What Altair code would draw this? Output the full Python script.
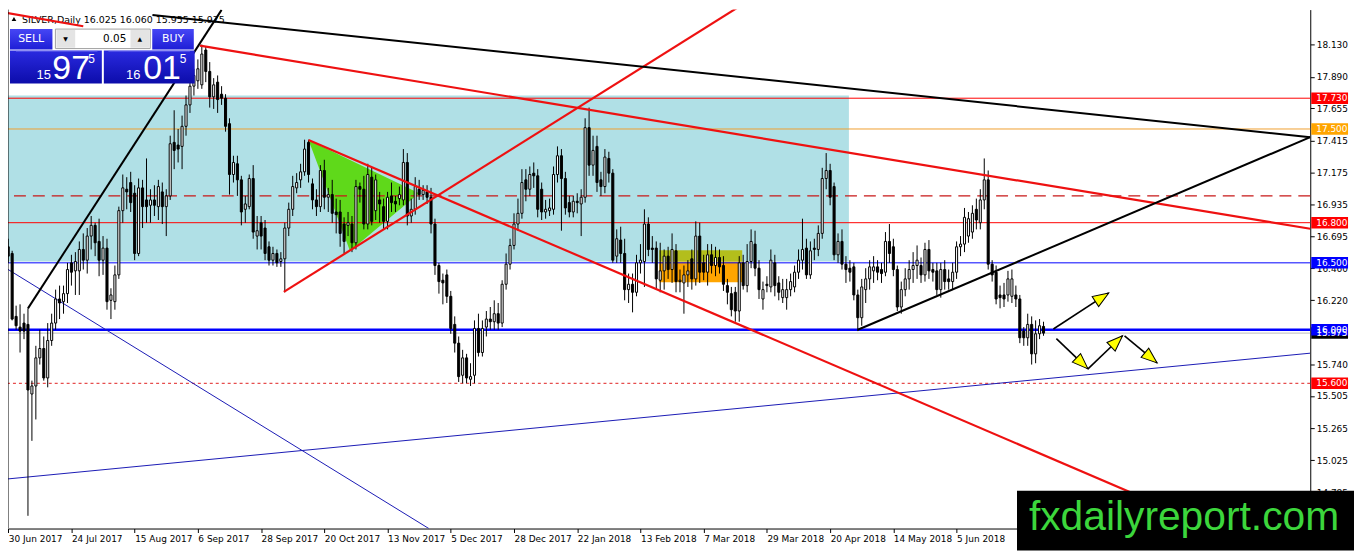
import math
import altair as alt
import pandas as pd

# ---------------- candle data (bar 0 = 30 Jun 2017, one bar per weekday) ----------------
opens = [16.62,16.57,16.10,16.02,16.05,16.04,15.52,15.58,15.79,15.86,
         15.64,15.92,16.05,16.23,16.21,16.27,16.50,16.44,16.44,16.60,
         16.52,16.70,16.78,16.66,16.52,16.61,16.22,16.21,16.41,16.89,
         17.05,17.10,17.02,16.57,17.06,16.97,16.93,16.97,16.92,17.03,
         16.92,17.00,17.40,17.38,17.37,17.52,17.68,17.82,17.86,17.83,
         18.09,17.93,17.74,17.85,17.76,17.73,17.54,17.16,17.24,17.12,
         16.90,16.92,17.13,16.70,16.80,16.76,16.62,16.52,16.57,16.51,
         16.53,16.76,16.90,17.06,17.12,17.18,17.40,17.09,16.97,16.92,
         17.19,16.99,17.01,16.88,16.88,16.79,16.78,16.79,16.65,17.07,
         17.05,16.79,17.14,16.89,16.97,16.92,16.81,17.00,16.96,16.98,
         16.97,17.25,16.85,16.90,17.05,17.01,17.03,16.99,16.79,16.48,
         16.37,16.41,16.25,16.04,15.90,15.66,15.79,15.63,15.66,16.01,
         15.83,16.02,16.08,16.06,16.12,16.05,16.34,16.49,16.63,16.79,
         16.87,17.12,17.05,17.17,17.15,17.05,16.88,16.89,16.90,17.16,
         17.30,17.13,16.95,16.88,16.96,16.94,16.99,17.51,17.23,17.37,
         17.12,17.07,17.28,17.17,16.55,16.67,16.57,16.30,16.34,16.28,
         16.50,16.51,16.79,16.61,16.61,16.37,16.44,16.55,16.45,16.59,
         16.36,16.35,16.41,16.53,16.38,16.70,16.50,16.43,16.56,16.48,
         16.54,16.48,16.33,16.27,16.28,16.14,16.50,16.33,16.51,16.64,
         16.46,16.23,16.34,16.32,16.50,16.35,16.24,16.24,16.30,16.32,
         16.43,16.52,16.61,16.41,16.61,16.60,16.72,17.13,17.19,17.07,
         16.56,16.66,16.49,16.46,16.47,16.26,16.09,16.30,16.38,16.44,
         16.47,16.45,16.43,16.66,16.62,16.45,16.17,16.30,16.38,16.45,
         16.48,16.48,16.41,16.60,16.45,16.44,16.30,16.45,16.38,16.36,
         16.43,16.62,16.64,16.70,16.73,16.90,16.80,16.97,17.12,16.49,
         16.43,16.26,16.26,16.26,16.25,16.26,16.23,15.99,15.94,16.04,
         15.82,15.97,16.025]
highs = [16.68,16.59,16.18,16.19,16.12,16.16,15.62,15.88,16.00,15.95,
         16.05,16.12,16.30,16.33,16.33,16.50,16.56,16.58,16.66,16.72,
         16.76,16.85,16.80,16.83,16.70,16.68,16.31,16.48,16.92,17.16,
         17.14,17.18,17.08,17.13,17.12,17.28,17.05,17.08,17.12,17.10,
         17.05,17.45,17.64,17.50,17.60,17.75,17.87,17.95,18.02,18.13,
         18.12,18.00,17.88,17.90,17.82,17.76,17.58,17.30,17.30,17.15,
         17.00,17.16,17.23,16.85,16.85,16.82,16.66,16.62,16.60,16.58,
         16.80,16.95,17.15,17.17,17.24,17.42,17.42,17.13,17.05,17.23,
         17.27,17.06,17.12,16.98,16.97,16.84,16.88,16.85,17.12,17.10,
         17.15,17.24,17.21,17.16,17.03,16.98,17.03,17.10,17.00,17.07,
         17.35,17.32,16.98,17.14,17.12,17.08,17.08,17.06,16.83,16.50,
         16.42,16.45,16.29,16.10,15.95,15.85,15.82,15.75,16.07,16.12,
         16.07,16.14,16.17,16.22,16.20,16.37,16.57,16.68,16.87,16.98,
         17.20,17.20,17.22,17.25,17.20,17.10,16.97,16.98,17.22,17.37,
         17.35,17.18,17.00,17.00,17.02,17.05,17.58,17.66,17.45,17.45,
         17.18,17.35,17.33,17.20,16.75,16.77,16.68,16.42,16.42,16.56,
         16.64,16.90,16.84,16.70,16.66,16.65,16.60,16.62,16.72,16.64,
         16.45,16.48,16.52,16.60,16.81,16.80,16.56,16.64,16.64,16.62,
         16.60,16.55,16.38,16.32,16.32,16.55,16.56,16.64,16.75,16.74,
         16.52,16.36,16.40,16.60,16.56,16.40,16.38,16.38,16.42,16.48,
         16.60,16.83,16.68,16.66,16.68,16.78,17.21,17.32,17.24,17.10,
         16.72,16.75,16.55,16.52,16.50,16.30,16.38,16.46,16.52,16.55,
         16.52,16.50,16.73,16.79,16.68,16.48,16.36,16.46,16.52,16.58,
         16.63,16.54,16.65,16.67,16.50,16.50,16.50,16.52,16.45,16.50,
         16.66,16.70,16.91,16.88,16.93,16.98,17.05,17.28,17.19,16.52,
         16.48,16.33,16.35,16.44,16.45,16.33,16.26,16.02,16.12,16.10,
         16.07,16.08,16.06]
lows = [16.50,16.07,16.00,15.83,15.93,14.61,15.17,15.33,15.74,15.62,
        15.57,15.88,16.00,16.08,16.12,16.20,16.33,16.26,16.26,16.45,
        16.42,16.60,16.55,16.40,16.41,16.15,16.08,16.15,16.38,16.80,
        16.90,16.88,16.52,16.55,16.76,16.80,16.80,16.85,16.82,16.79,
        16.70,16.97,17.20,17.25,17.20,17.45,17.62,17.75,17.80,17.80,
        17.85,17.66,17.65,17.62,17.68,17.48,17.01,17.10,17.00,16.78,
        16.80,16.90,16.68,16.60,16.60,16.52,16.48,16.48,16.47,16.47,
        16.28,16.70,16.85,17.02,17.06,17.15,17.10,16.90,16.85,16.88,
        16.90,16.88,16.80,16.72,16.62,16.57,16.70,16.58,16.60,16.95,
        16.75,16.75,16.78,16.82,16.80,16.75,16.75,16.88,16.88,16.93,
        16.93,16.78,16.80,16.86,16.97,16.97,16.94,16.72,16.41,16.27,
        16.19,16.20,15.97,15.83,15.61,15.60,15.60,15.58,15.60,15.80,
        15.80,15.95,16.00,16.00,16.00,16.02,16.30,16.45,16.60,16.74,
        16.83,16.96,17.00,17.06,16.84,16.82,16.83,16.85,16.86,17.10,
        16.74,16.86,16.84,16.84,16.87,16.70,16.95,17.15,17.15,17.03,
        17.00,17.02,17.10,16.50,16.50,16.50,16.22,16.20,16.13,16.25,
        16.42,16.32,16.55,16.50,16.30,16.28,16.30,16.38,16.35,16.28,
        16.28,16.12,16.32,16.30,16.33,16.35,16.37,16.33,16.42,16.40,
        16.42,16.29,16.19,16.10,16.06,16.06,16.30,16.28,16.46,16.40,
        16.23,16.15,16.28,16.28,16.25,16.22,16.20,16.15,16.25,16.28,
        16.38,16.45,16.38,16.38,16.52,16.55,16.68,17.05,16.93,16.52,
        16.50,16.45,16.35,16.36,16.22,15.99,16.03,16.20,16.30,16.35,
        16.37,16.35,16.40,16.50,16.40,16.14,16.12,16.25,16.30,16.35,
        16.38,16.35,16.36,16.38,16.36,16.26,16.24,16.30,16.30,16.30,
        16.38,16.55,16.58,16.65,16.68,16.75,16.75,16.90,16.45,16.36,
        16.19,16.16,16.17,16.21,16.20,16.17,15.90,15.88,15.88,15.74,
        15.75,15.93,15.955]
closes = [16.55,16.08,16.03,15.99,15.99,15.55,15.58,15.79,15.86,15.64,
          15.92,16.05,16.23,16.20,16.27,16.45,16.43,16.51,16.60,16.52,
          16.70,16.78,16.65,16.52,16.61,16.21,16.26,16.41,16.89,17.06,
          17.03,16.95,16.57,17.06,16.92,16.92,16.97,16.93,17.07,16.92,
          17.00,17.39,17.34,17.35,17.52,17.68,17.82,17.90,17.95,18.06,
          17.93,17.74,17.83,17.72,17.73,17.52,17.16,17.25,17.12,16.88,
          16.94,17.13,16.73,16.74,16.70,16.57,16.52,16.57,16.50,16.53,
          16.76,16.90,17.07,17.10,17.18,17.35,17.16,16.97,16.92,17.19,
          16.99,17.01,16.87,16.86,16.72,16.66,16.80,16.65,17.07,17.05,
          16.79,17.16,16.81,17.12,16.94,16.81,16.99,16.95,16.94,17.01,
          17.25,16.85,16.90,17.07,17.01,17.04,16.99,16.79,16.48,16.36,
          16.35,16.25,16.01,15.90,15.65,15.79,15.64,15.65,16.01,15.83,
          16.01,16.08,16.06,16.12,16.05,16.34,16.49,16.63,16.79,16.87,
          17.10,17.05,17.16,17.15,16.90,16.88,16.90,16.91,17.16,17.30,
          17.13,16.91,16.88,16.96,16.95,16.99,17.51,17.23,17.34,17.10,
          17.07,17.29,17.17,16.52,16.68,16.57,16.30,16.34,16.28,16.50,
          16.52,16.79,16.60,16.60,16.38,16.44,16.55,16.45,16.60,16.36,
          16.37,16.41,16.44,16.38,16.70,16.43,16.43,16.56,16.48,16.54,
          16.47,16.34,16.28,16.15,16.14,16.50,16.33,16.51,16.66,16.46,
          16.30,16.30,16.33,16.52,16.33,16.28,16.30,16.30,16.36,16.43,
          16.52,16.60,16.41,16.59,16.60,16.72,17.13,17.19,16.99,16.56,
          16.66,16.49,16.45,16.43,16.26,16.09,16.32,16.38,16.47,16.47,
          16.43,16.42,16.66,16.57,16.45,16.17,16.30,16.38,16.45,16.48,
          16.52,16.41,16.60,16.44,16.43,16.30,16.45,16.36,16.36,16.43,
          16.62,16.64,16.84,16.83,16.87,16.82,16.97,17.12,16.49,16.41,
          16.23,16.24,16.23,16.38,16.38,16.23,15.94,15.94,16.04,15.82,
          15.97,16.03,15.975]
assert len(opens) == len(highs) == len(lows) == len(closes) == 263

date_labels = ["30 Jun 2017", "24 Jul 2017", "15 Aug 2017", "6 Sep 2017", "28 Sep 2017",
               "20 Oct 2017", "13 Nov 2017", "5 Dec 2017", "28 Dec 2017", "22 Jan 2018",
               "13 Feb 2018", "7 Mar 2018", "29 Mar 2018", "20 Apr 2018", "14 May 2018",
               "5 Jun 2018"]
date_ticks = [0, 16, 32, 48, 64, 80, 96, 112, 128, 144, 160, 176, 192, 208, 224, 240]
price_ticks = [18.130, 17.890, 17.655, 17.415, 17.175, 16.935, 16.695, 16.460, 16.220,
               15.980, 15.740, 15.505, 15.265, 15.025, 14.785]

# horizontal levels
level_prices = [17.730, 17.500, 17.000, 16.800, 16.500, 15.975, 16.000, 15.600]
# price tags on the right axis
tag_prices = [17.730, 17.500, 16.800, 16.500, 15.975, 16.000, 15.600]
tag_colors = ["#FF0000", "#FFA500", "#FF0000", "#0000FF", "#000000", "#0000FF", "#FF0000"]

# zones (bar index range, price range)
zone_blue = {"i0": [-0.05], "i1": [212.75], "p0": [16.51], "p1": [17.75]}
zone_orange = {"i0": [164.75], "i1": [185.75], "p0": [16.355], "p1": [16.51]}
zone_olive = {"i0": [164.75], "i1": [185.75], "p0": [16.51], "p1": [16.595]}
tri_i = [76.0, 86.5, 104.0]
tri_p = [17.417, 16.588, 17.02]

# trend lines: (bar index, price) endpoints
red_lines = {"r0": [(-1, 18.37), (19, 18.268)],
             "r1": [(48.5, 18.123), (329.5, 16.755)],
             "r2": [(69.75, 16.283), (185, 18.415)],
             "r3": [(76, 17.417), (305, 14.52)]}
black_lines = {"b1": [(5, 16.16), (54, 18.39)],
               "b2": [(36.5, 18.351), (329.5, 17.439)],
               "b3": [(215, 16.0), (329.5, 17.439)]}
blue_lines = {"l1": [(-1, 14.883), (329.5, 15.825)],
              "l2": [(-1, 16.468), (106.5, 14.514)]}
arrows = [((264.5, 16.006), (278.5, 16.275)),
          ((265.25, 15.934), (273.25, 15.708)),
          ((273.25, 15.708), (282.0, 15.955)),
          ((282.5, 15.955), (290.75, 15.752))]

# ---------------- layout ----------------
W, H = 1310, 522
XD = [-0.05, 329.5]
YD = [14.515, 18.392]
XS = alt.Scale(domain=XD, nice=False, zero=False)
YS = alt.Scale(domain=YD, nice=False, zero=False)
FONT = "DejaVu Sans"

label_expr = "[" + ",".join(f"'{s}'" for s in date_labels) + "][round(datum.value / 16)]"
XAX = alt.Axis(values=date_ticks, labelExpr=label_expr, orient="bottom", grid=False,
               domainColor="black", tickColor="black", tickSize=4, labelAlign="left",
               labelBaseline="top", labelPadding=2, labelFont=FONT,
               labelFontSize=9, labelColor="black", labelOverlap=False,
               labelFlush=False, labelBound=False, zindex=0, title=None)
YAX = alt.Axis(values=price_ticks, format=".3f", orient="right", grid=False,
               domainColor="black", tickColor="black", tickSize=4, labelPadding=2,
               labelFont=FONT, labelFontSize=9, labelColor="black",
               labelOverlap=False, labelFlush=False, labelBound=False, zindex=0, title=None)


def X(f):
    return alt.X(f"{f}:Q", scale=XS, axis=XAX, title=None)


def Y(f):
    return alt.Y(f"{f}:Q", scale=YS, axis=YAX, title=None)


one = pd.DataFrame({"k": [0]})


def prect(x, y, x2, y2, fill, stroke=None, sw=0):
    kw = {"fill": fill}
    if stroke:
        kw["stroke"] = stroke
        kw["strokeWidth"] = sw
    return alt.Chart(one).mark_rect(**kw).encode(
        x=alt.value(x), y=alt.value(y), x2=alt.value(x2), y2=alt.value(y2))


def ptext(txt, x, y, size, color="white", align="center", baseline="middle", font=FONT, weight="normal"):
    return alt.Chart(one).mark_text(text=txt, fontSize=size, color=color, align=align,
                                    baseline=baseline, font=font, fontWeight=weight).encode(
        x=alt.value(x), y=alt.value(y))


def zone(d, color):
    return alt.Chart(pd.DataFrame(d)).mark_rect(fill=color, clip=True).encode(
        x=X("i0"), x2=alt.X2("i1"), y=Y("p0"), y2=alt.Y2("p1"))


layers = []
layers.append(zone(zone_blue, "#B0E0E6"))

# green triangle as an area between its upper and lower edges
ta, tb, tc = (tri_i[0], tri_p[0]), (tri_i[1], tri_p[1]), (tri_i[2], tri_p[2])
top_mid = ta[1] + (tc[1] - ta[1]) * (tb[0] - ta[0]) / (tc[0] - ta[0])
tri_df = pd.DataFrame({"i": [ta[0], tb[0], tc[0]],
                       "top": [ta[1], top_mid, tc[1]],
                       "bot": [ta[1], tb[1], tc[1]]})
layers.append(alt.Chart(tri_df).mark_area(color="#5FD91A", opacity=1, interpolate="linear").encode(
    x=X("i"), y=Y("top"), y2=alt.Y2("bot")))
layers.append(zone(zone_orange, "#FFA500"))
layers.append(zone(zone_olive, "#B3BE1C"))

# horizontal levels
level_styles = [dict(color="#FF0000", strokeWidth=1),
                dict(color="#F0A030", strokeWidth=1),
                dict(color="#C81818", strokeWidth=1.2, strokeDash=[12, 7]),
                dict(color="#FF0000", strokeWidth=1),
                dict(color="#0000FF", strokeWidth=1),
                dict(color="#BBBBBB", strokeWidth=1),
                dict(color="#0000FF", strokeWidth=2.5),
                dict(color="#E02020", strokeWidth=1, strokeDash=[3, 3])]
for p, st in zip(level_prices, level_styles):
    layers.append(alt.Chart(pd.DataFrame({"p": [p]})).mark_rule(**st).encode(y=Y("p")))


def lines_df(d):
    rows = []
    for name, pts in d.items():
        for k, (i, p) in enumerate(pts):
            rows.append({"line": name, "i": i, "p": p, "o": k})
    return pd.DataFrame(rows)


def line_layer(d, color, width):
    return alt.Chart(lines_df(d)).mark_line(color=color, strokeWidth=width, clip=True).encode(
        x=X("i"), y=Y("p"), detail="line:N", order="o:Q")


layers.append(line_layer(blue_lines, "#1A1AB4", 1))

# title text (drawn under the trend lines, as in the terminal)
layers.append(alt.Chart(one).mark_point(shape="triangle-up", filled=True, color="black", size=22, opacity=1).encode(
    x=alt.value(6), y=alt.value(9.5)))
layers.append(ptext("SILVER,Daily  16.025 16.060 15.955 15.975", 14, 10, 9.5, color="black", align="left"))

# candles
cdf = pd.DataFrame({"i": list(range(len(opens))), "o": opens, "h": highs, "l": lows, "c": closes})
cdf["x0"] = cdf["i"] - 0.26
cdf["x1"] = cdf["i"] + 0.26
cdf["blo"] = cdf[["o", "c"]].min(axis=1)
cdf["bhi"] = cdf[["o", "c"]].max(axis=1)

wicks = alt.Chart(cdf).mark_rule(color="black", strokeWidth=1, clip=True).encode(
    x=X("i"), y=Y("l"), y2=alt.Y2("h"))
layers.append(wicks)
bodies = alt.Chart(cdf).mark_rect(stroke="black", strokeWidth=1, clip=True).encode(
    x=X("x0"), x2=alt.X2("x1"), y=Y("blo"), y2=alt.Y2("bhi"),
    fill=alt.condition("datum.c >= datum.o", alt.value("white"), alt.value("black")))
layers.append(bodies)

layers.append(line_layer(red_lines, "#EE1111", 2.2))
layers.append(line_layer(black_lines, "#000000", 2))

# yellow arrows
kx = W / (XD[1] - XD[0])
ky = H / (YD[1] - YD[0])
arows, heads = [], []
for n, ((i0, p0), (i1, p1)) in enumerate(arrows):
    arows.append({"a": n, "i": i0, "p": p0, "o": 0})
    arows.append({"a": n, "i": i1, "p": p1, "o": 1})
    dx = (i1 - i0) * kx
    dy = -(p1 - p0) * ky
    ang = math.degrees(math.atan2(dx, -dy)) % 360
    heads.append({"i": i1, "p": p1, "ang": ang})
layers.append(alt.Chart(pd.DataFrame(arows)).mark_line(color="black", strokeWidth=1.6).encode(
    x=X("i"), y=Y("p"), detail="a:N", order="o:Q"))
layers.append(alt.Chart(pd.DataFrame(heads)).mark_point(
    shape="M0,0L-0.75,2L0.75,2Z", filled=True, fill="#FFFF00", stroke="black",
    strokeWidth=1, size=256, opacity=1).encode(
    x=X("i"), y=Y("p"), angle=alt.Angle("ang:Q", scale=None)))

# left frame line
layers.append(alt.Chart(one).mark_rule(color="black", strokeWidth=1).encode(
    x=alt.value(0), y=alt.value(0), y2=alt.value(H)))

# ---------------- one-click trading panel ----------------
btn_grad = alt.LinearGradient(gradient="linear", x1=0, x2=0, y1=0, y2=1,
                              stops=[alt.GradientStop(color="#4646F5", offset=0),
                                     alt.GradientStop(color="#1E1ED6", offset=1)])
box_grad = alt.LinearGradient(gradient="linear", x1=0, x2=0, y1=0, y2=1,
                              stops=[alt.GradientStop(color="#2A2AE0", offset=0),
                                     alt.GradientStop(color="#0C0CAA", offset=1)])
layers += [
    prect(2, 19.6, 44.7, 40.2, btn_grad),
    ptext("SELL", 23.3, 29.5, 11),
    prect(47.7, 19.6, 143.1, 39.2, "white", "#A0A0A0", 1),
    prect(48.7, 20.5, 67.6, 38.3, "#E4E4E4"),
    prect(123.2, 20.5, 142.1, 38.3, "#E4E4E4"),
    ptext("▼", 58, 29.5, 6, color="black"),
    ptext("▲", 132.6, 29.5, 6, color="black"),
    ptext("0.05", 119, 29.5, 10.5, color="black", align="right"),
    prect(145.1, 19.6, 186.9, 40.2, btn_grad),
    ptext("BUY", 166, 29.5, 11),
    prect(2, 41.1, 94.4, 74.4, box_grad),
    prect(96.4, 41.1, 187.8, 74.4, box_grad),
    alt.Chart(one).mark_rule(color="#8C8CF5", strokeWidth=1).encode(
        x=alt.value(8), x2=alt.value(90), y=alt.value(41.5)),
    alt.Chart(one).mark_rule(color="#8C8CF5", strokeWidth=1).encode(
        x=alt.value(101), x2=alt.value(183), y=alt.value(41.5)),
    ptext("15", 36, 70, 13, baseline="alphabetic", font="Liberation Sans"),
    ptext("97", 63.5, 70, 34, baseline="alphabetic", font="Liberation Sans"),
    ptext("5", 84, 45, 12, baseline="top", font="Liberation Sans"),
    ptext("16", 126, 70, 13, baseline="alphabetic", font="Liberation Sans"),
    ptext("01", 155, 70, 34, baseline="alphabetic", font="Liberation Sans"),
    ptext("5", 176, 45, 12, baseline="top", font="Liberation Sans"),
]

# ---------------- price tags on the right axis ----------------
tags = pd.DataFrame({"p": tag_prices, "col": tag_colors})
tags["lbl"] = [f"{v:.3f}" for v in tag_prices]
layers.append(alt.Chart(tags).transform_calculate(
    lo="datum.p - 0.043", hi="datum.p + 0.043").mark_rect().encode(
    x=alt.value(W + 1), x2=alt.value(W + 38), y=Y("lo"), y2=alt.Y2("hi"),
    fill=alt.Fill("col:N", scale=None)))
layers.append(alt.Chart(tags).mark_text(color="white", align="left", baseline="middle",
                                        font=FONT, fontSize=9).encode(
    x=alt.value(W + 6), y=Y("p"), text="lbl:N"))

# ---------------- watermark ----------------
layers.append(prect(1015, 484, 1354, 544, "black"))
layers.append(ptext("fxdailyreport.com", 1183, 511, 41, color="#3CD63C", font="Liberation Sans"))

chart = alt.layer(*layers).properties(
    width=W, height=H, background="white",
    padding={"left": 0, "top": 0, "right": 44, "bottom": 22},
    autosize=alt.AutoSizeParams(type="none"),
).configure_view(stroke=None)

chart.save("out.html", embed_options={"renderer": "svg", "actions": False})
